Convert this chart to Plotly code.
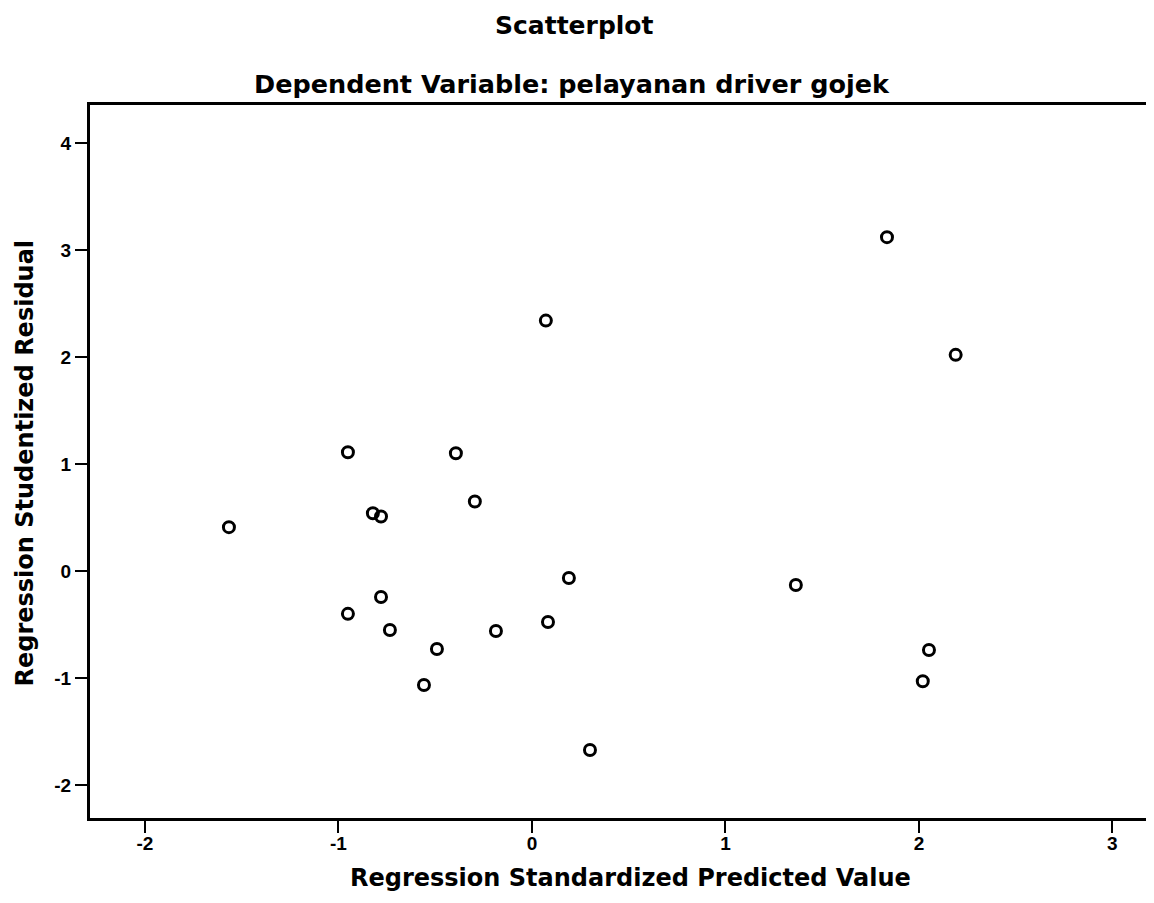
import plotly.graph_objects as go

# Regression Standardized Predicted Value
pred = [1.835, 2.19, 0.072, -0.951, -0.393, -0.295, -0.822, -0.78, -1.566,
        0.191, 1.364, -0.951, -0.78, -0.734, -0.186, 0.083, -0.491, 2.052,
        2.02, -0.558, 0.30]
# Regression Studentized Residual
resid = [3.12, 2.02, 2.34, 1.11, 1.10, 0.65, 0.54, 0.51, 0.41,
         -0.065, -0.13, -0.40, -0.243, -0.551, -0.56, -0.477, -0.729, -0.738,
         -1.03, -1.065, -1.673]

x_ticks = [-2, -1, 0, 1, 2, 3]
y_ticks = [-2, -1, 0, 1, 2, 3, 4]

title_main = "Scatterplot"
title_sub = "Dependent Variable: pelayanan driver gojek"
x_title = "Regression Standardized Predicted Value"
y_title = "Regression Studentized Residual"

fig = go.Figure()
fig.add_trace(go.Scatter(
    x=pred, y=resid, mode="markers",
    marker=dict(symbol="circle-open", size=11, color="black",
                line=dict(width=3, color="black")),
    hoverinfo="skip", showlegend=False,
))

tick_font = dict(size=19, family="Liberation Sans, Arial, sans-serif", color="black")
title_family = "DejaVu Sans, Verdana, sans-serif"

fig.update_layout(
    width=1146, height=895,
    margin=dict(l=82, r=0, t=97, b=85),
    paper_bgcolor="white", plot_bgcolor="white",
    font=dict(family="Liberation Sans, Arial, sans-serif", color="black"),
    xaxis=dict(
        range=[-2.284, 3.215], tickvals=x_ticks,
        ticktext=["<b>%d</b>" % v for v in x_ticks],
        showgrid=False, zeroline=False, showline=True, linecolor="black",
        linewidth=3, mirror=True, ticks="outside", ticklen=12, tickwidth=2,
        tickcolor="black", tickfont=tick_font, ticklabelstandoff=-6,
    ),
    yaxis=dict(
        range=[-2.308, 4.355], tickvals=y_ticks,
        ticktext=["<b>%d</b>" % v for v in y_ticks],
        showgrid=False, zeroline=False, showline=True, linecolor="black",
        linewidth=3, ticks="outside", ticklen=12, tickwidth=2,
        tickcolor="black", tickfont=tick_font,
    ),
    annotations=[
        dict(text="<b>%s</b>" % title_main, xref="paper", yref="paper",
             x=0.455, y=1.0, yshift=80, showarrow=False, xanchor="center", yanchor="middle",
             font=dict(size=25, family=title_family, color="black")),
        dict(text="<b>%s</b>" % title_sub, xref="paper", yref="paper",
             x=0.453, y=1.0, yshift=21, showarrow=False, xanchor="center", yanchor="middle",
             font=dict(size=25.5, family=title_family, color="black")),
        dict(text="<b>%s</b>" % x_title, xref="paper", yref="paper",
             x=0.5, xshift=8, y=0.0, yshift=-60, showarrow=False,
             xanchor="center", yanchor="middle",
             font=dict(size=24, family=title_family, color="black")),
        dict(text="<b>%s</b>" % y_title, xref="paper", yref="paper",
             x=0.0, xshift=-66, y=0.5, yshift=-2, showarrow=False, textangle=-90,
             xanchor="center", yanchor="middle",
             font=dict(size=24, family=title_family, color="black")),
    ],
)

fig.write_html("out.html")
